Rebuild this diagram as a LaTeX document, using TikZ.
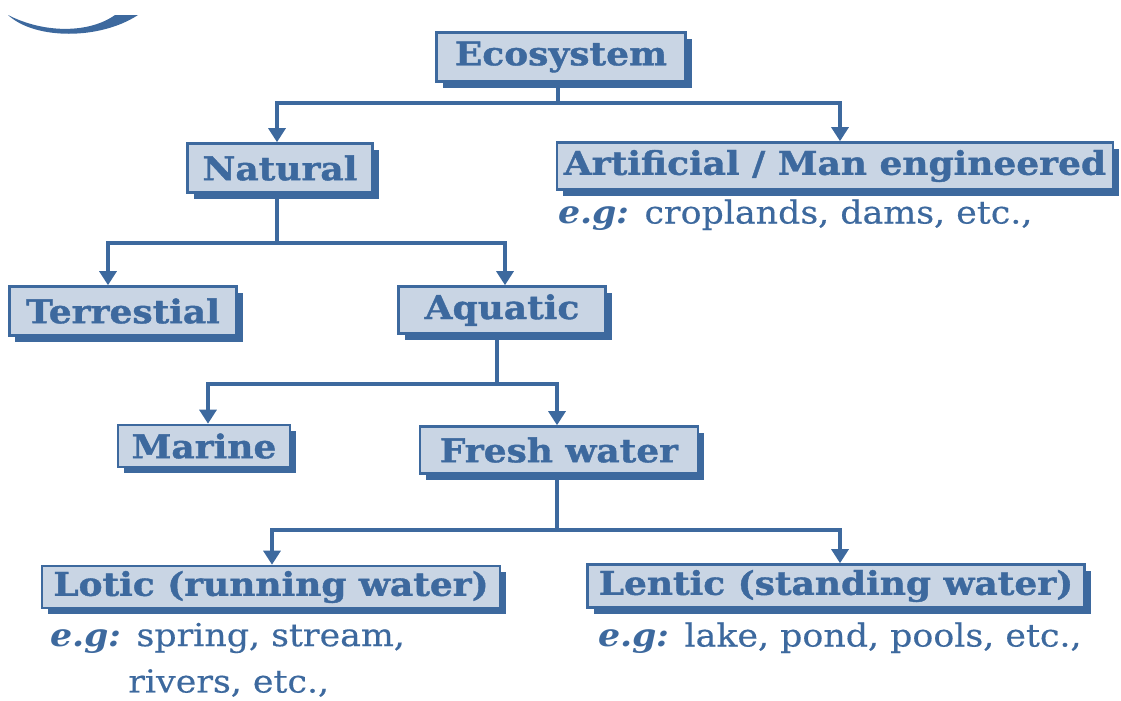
\documentclass[tikz,border=0pt]{standalone}
\usepackage{fontspec}
\setmainfont{DejaVu Serif}[FakeStretch=1.1,BoldFeatures={FakeBold=1.2},UprightFeatures={FakeBold=0.4}]
\usetikzlibrary{positioning,arrows.meta,shadows}
\definecolor{ecoblue}{RGB}{61,105,158}
\definecolor{ecofill}{RGB}{201,213,228}

\begin{document}
\begin{tikzpicture}[x=0.02cm,y=-0.02cm,
    ecobox/.style={draw=ecoblue,fill=ecofill,line width=1.5pt,inner sep=0pt,text=ecoblue,
      font=\fontsize{18.6}{20}\selectfont\bfseries,
      drop shadow={shadow xshift=0.12cm,shadow yshift=-0.12cm,opacity=1,fill=ecoblue}},
    egtext/.style={anchor=west,inner sep=0pt,text=ecoblue,font=\fontsize{18}{20}\selectfont},
    link/.style={draw=ecoblue,line width=1.8pt},
    arr/.style={link,-{Triangle[length=0.28cm,width=0.34cm]}}]
    \useasboundingbox (0,0) rectangle (1121,700);
    \fill[ecoblue] (8,15) .. controls (35,40) and (100,40) .. (138,15) -- (115,15) .. controls (90,33) and (45,34) .. (8,15) -- cycle;
    \node[ecobox,minimum width=249*0.02cm,minimum height=49*0.02cm] (eco) at (561,57) {Ecosystem};
    \node[ecobox,minimum width=185*0.02cm,minimum height=49*0.02cm] (nat) at (280,168) {Natural};
    \node[ecobox,minimum width=556*0.02cm,minimum height=47*0.02cm] (art) at (835,166) {Artificial / Man engineered};
    \node[ecobox,minimum width=227*0.02cm,minimum height=49*0.02cm] (ter) at (123,311) {Terrestial};
    \node[ecobox,minimum width=207*0.02cm,minimum height=47*0.02cm] (aqu) at (502,310) {Aquatic};
    \node[ecobox,minimum width=172*0.02cm,minimum height=42*0.02cm] (mar) at (204,446) {Marine};
    \node[ecobox,minimum width=278*0.02cm,minimum height=47*0.02cm] (fre) at (559,450) {Fresh water};
    \node[ecobox,minimum width=458*0.02cm,minimum height=42*0.02cm] (lot) at (271,587) {Lotic (running water)};
    \node[ecobox,minimum width=497*0.02cm,minimum height=43*0.02cm] (len) at (836,586) {Lentic (standing water)};
    \node[egtext] (egart) at (558,215) {\textbf{\textit{e.g:}} croplands, dams, etc.,};
    \node[egtext] (eglot) at (50,638) {\textbf{\textit{e.g:}} spring, stream,};
    \node[egtext] (eglot2) at (128,683) {rivers, etc.,};
    \node[egtext] (eglen) at (598,638) {\textbf{\textit{e.g:}} lake, pond, pools, etc.,};
    % tree connectors
    \coordinate (j1) at (558,103);
    \coordinate (j2) at (277,243);
    \coordinate (j3) at (497,384);
    \coordinate (j4) at (557,530);
    \draw[link] (eco.south -| j1) -- (j1);
    \draw[arr] (j1) -| (nat.north -| 277,0);
    \draw[arr] (j1) -| (art.north -| 840,0);
    \draw[link] (nat.south -| j2) -- (j2);
    \draw[arr] (j2) -| (ter.north -| 108,0);
    \draw[arr] (j2) -| (aqu.north -| 505,0);
    \draw[link] (aqu.south -| j3) -- (j3);
    \draw[arr] (j3) -| (mar.north -| 208,0);
    \draw[arr] (j3) -| (fre.north -| 557,0);
    \draw[link] (fre.south -| j4) -- (j4);
    \draw[arr] (j4) -| (lot.north -| 272,0);
    \draw[arr] (j4) -| (len.north -| 840,0);
  \end{tikzpicture}
\end{document}
